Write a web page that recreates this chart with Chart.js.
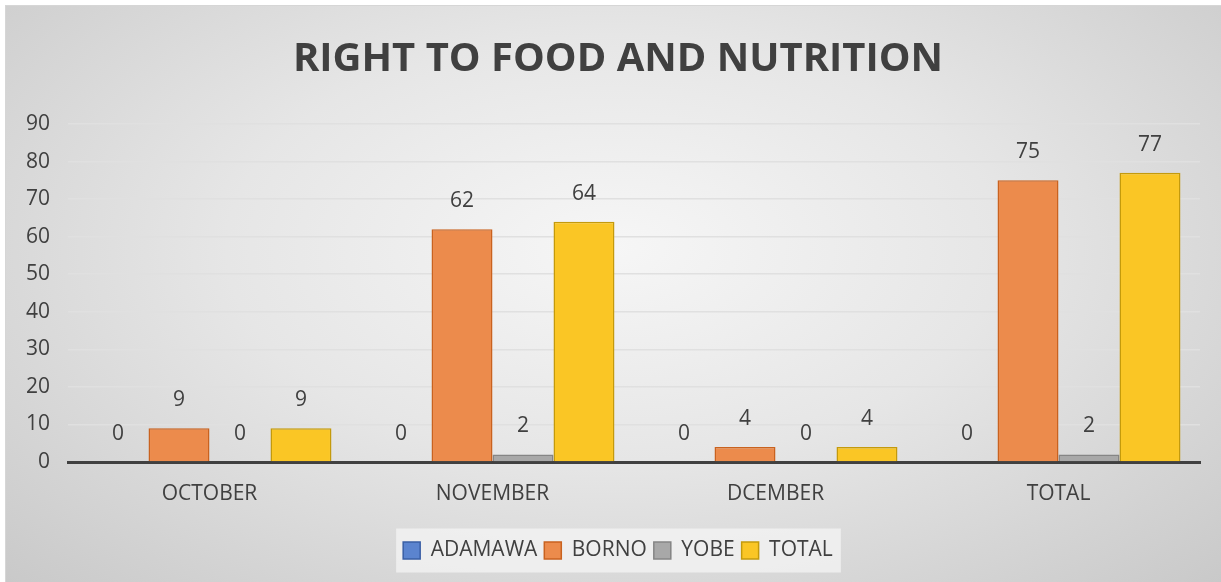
<!DOCTYPE html>
<html>
<head>
<meta charset="utf-8">
<script src="https://cdn.jsdelivr.net/npm/chart.js@4"></script>
<style>
  html, body { margin: 0; padding: 0; background: #fff; }
  #frame {
    position: absolute; left: 5px; top: 5px;
    width: 1215px; height: 576px;
    border: 1px solid #d6d6d6;
    background: radial-gradient(ellipse farthest-corner at 50% 42%, #f6f6f6 0%, #e6e6e6 45%, #c9c9c9 100%);
  }
  canvas { display: block; }
</style>
</head>
<body>
<div id="frame"><canvas id="chart" width="1215" height="576"></canvas></div>
<script>
// values
const months = ['OCTOBER', 'NOVEMBER', 'DCEMBER', 'TOTAL'];
const adamawa = [0, 0, 0, 0];
const borno = [9, 62, 4, 75];
const yobe = [0, 2, 0, 2];
const total = [9, 64, 4, 77];

const textColor = '#404040';
const font = 'Open Sans';

// title and legend sit a bit right of the plot centre in the original
const nudgeBlocks = {
  id: 'nudgeBlocks',
  afterLayout(chart) {
    [chart.titleBlock, chart.legend].forEach(b => {
      if (!b) return;
      b.left += 15;
      b.right += 15;
    });
  }
};

// numbers over every bar, zero bars included
const valueLabels = {
  id: 'valueLabels',
  afterDatasetsDraw(chart) {
    const ctx = chart.ctx;
    ctx.save();
    ctx.font = '21px "' + font + '"';
    ctx.fillStyle = textColor;
    ctx.textAlign = 'center';
    ctx.textBaseline = 'middle';
    chart.data.datasets.forEach((ds, i) => {
      chart.getDatasetMeta(i).data.forEach((bar, j) => {
        ctx.fillText(String(ds.data[j]), bar.x, bar.y - 28);
      });
    });
    ctx.restore();
  }
};

// light panel behind the legend
const legendPanel = {
  id: 'legendPanel',
  beforeDraw(chart) {
    const boxes = chart.legend && chart.legend.legendHitBoxes;
    if (!boxes || !boxes.length) return;
    const left = Math.min(...boxes.map(b => b.left));
    const right = Math.max(...boxes.map(b => b.left + b.width));
    const mid = boxes[0].top + boxes[0].height / 2;
    const ctx = chart.ctx;
    ctx.save();
    ctx.fillStyle = 'rgba(244,244,244,0.75)';
    ctx.fillRect(left - 7, mid - 22, right - left + 15, 44);
    ctx.restore();
  }
};

new Chart(document.getElementById('chart'), {
  type: 'bar',
  data: {
    labels: months,
    datasets: [
      {label: 'ADAMAWA', data: adamawa, backgroundColor: '#5B84CF', borderColor: '#3A5FA5', borderWidth: 1.5},
      {label: 'BORNO', data: borno, backgroundColor: '#EC8B4C', borderColor: '#C9621F', borderWidth: 1.5},
      {label: 'YOBE', data: yobe, backgroundColor: '#A8A8A8', borderColor: '#858585', borderWidth: 1.5},
      {label: 'TOTAL', data: total, backgroundColor: '#FAC625', borderColor: '#C49A0C', borderWidth: 1.5}
    ]
  },
  options: {
    responsive: false,
    animation: false,
    layout: {padding: {left: 0, right: 21, top: 0, bottom: 11}},
    datasets: {bar: {barPercentage: 1.0, categoryPercentage: 0.862}},
    plugins: {
      title: {
        display: true,
        text: 'RIGHT TO FOOD AND NUTRITION',
        color: textColor,
        font: {family: font, size: 40, weight: 'bold'},
        padding: {top: 30, bottom: 40}
      },
      legend: {
        position: 'bottom',
        labels: {
          color: textColor,
          font: {family: font, size: 21},
          boxWidth: 17,
          boxHeight: 17,
          padding: 7
        }
      },
      tooltip: {enabled: false}
    },
    scales: {
      x: {
        afterFit(scale) { scale.height = 71; },
        grid: {display: false},
        border: {display: true, color: '#404040', width: 3},
        ticks: {color: textColor, font: {family: font, size: 21}, padding: 11}
      },
      y: {
        min: 0,
        max: 90,
        afterFit(scale) { scale.width = 62; },
        grid: {
          drawTicks: false,
          color: ctx => ctx.tick && ctx.tick.value === 0 ? 'rgba(0,0,0,0)' : '#e0e0e0',
          lineWidth: 1.6
        },
        border: {display: false},
        ticks: {stepSize: 10, color: textColor, font: {family: font, size: 21}, padding: 18}
      }
    }
  },
  plugins: [nudgeBlocks, legendPanel, valueLabels]
});
</script>
</body>
</html>
